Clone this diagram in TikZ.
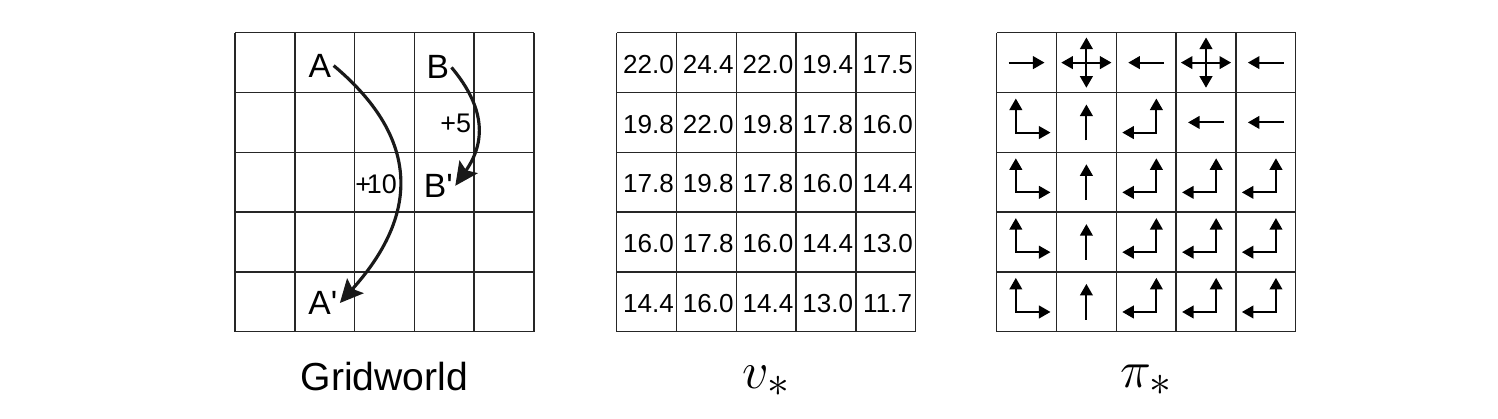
\documentclass[tikz,border=0pt]{standalone}
\usepackage{amsmath}
\usepackage{fontspec}
\usepackage{tikz}
\usetikzlibrary{arrows.meta}
\newfontfamily\arialfont{Liberation Sans}
\tikzset{
    gridline/.style={line width=0.7pt, draw=black!85},
    valnode/.style={font=\arialfont\fontsize{12.4}{14}\selectfont, inner sep=0pt},
    cellnode/.style={font=\arialfont\fontsize{16}{18}\selectfont, inner sep=1pt},
    rewnode/.style={font=\arialfont\fontsize{12.8}{14}\selectfont, inner sep=0pt},
    caption/.style={anchor=base, inner sep=0pt}
}
\tikzset{
    jump/.style={line width=1.5pt, draw=black!90,
    	-{Stealth[length=11pt, width=10.5pt, inset=2pt]}},
    policy/.style={line width=1pt, >={Triangle[length=5.5pt, width=6pt]}, ->}
}
\tikzset{
    pics/rarr/.style={code={\draw[policy] (-0.3,0) -- (0.3,0);}},
    pics/larr/.style={code={\draw[policy] (0.3,0) -- (-0.3,0);}},
    pics/uarr/.style={code={\draw[policy] (0,-0.3) -- (0,0.3);}},
    pics/allarr/.style={code={
    	\draw[policy] (0,0) -- (0.42,0); \draw[policy] (0,0) -- (-0.42,0);
    	\draw[policy] (0,0) -- (0,0.42); \draw[policy] (0,0) -- (0,-0.42);}},
    pics/urarr/.style={code={\draw[policy, <->] (-0.18,0.4) -- (-0.18,-0.17) -- (0.4,-0.17);}},
    pics/ularr/.style={code={\draw[policy, <->] (0.17,0.4) -- (0.17,-0.17) -- (-0.4,-0.17);}}
}

\begin{document}
\begin{tikzpicture}
	\useasboundingbox (-3.93,0.547) rectangle (21.12,-6.443);

	% gridworld
	\draw[gridline] (0,0) grid (5,-5);
	\node (A) [cellnode] at (1.42cm, -0.55cm) {A};
	\node (Ap) [cellnode] at (1.47cm, -4.52cm) {A'};
	\node (B) [cellnode] at (3.39cm, -0.58cm) {B};
	\node (Bp) [cellnode] at (3.40cm, -2.56cm) {B'};
	\node (r10) [rewnode] at (2.36cm, -2.54cm) {+\kern-2pt10};
	\node (r5) [rewnode] at (3.69cm, -1.52cm) {+5};
	\draw (A.east) edge [jump, out=-40, in=48, looseness=1.25] (Ap.east);
	\draw (B.east) edge [jump, out=-50, in=55, looseness=1.15] (Bp.east);
	\node (gwlabel) [caption, font=\arialfont\fontsize{18.6}{21}\selectfont] at (2.5cm, -5.99cm) {Gridworld};

	% optimal values
	\begin{scope}[xshift=6.383cm]
	\draw[gridline] (0,0) grid (5,-5);
	\foreach \row [count=\r from 0] in {{22.0,24.4,22.0,19.4,17.5},{19.8,22.0,19.8,17.8,16.0},
		{17.8,19.8,17.8,16.0,14.4},{16.0,17.8,16.0,14.4,13.0},{14.4,16.0,14.4,13.0,11.7}}
		\foreach \val [count=\c from 0] in \row
			\node (v\r\c) [valnode] at (\c+0.53, -\r-0.53) {\val};
	\node (vlabel) [caption, font=\Huge] at (2.5cm, -5.95cm) {$v_*$};
	\end{scope}

	% optimal policy
	\begin{scope}[xshift=12.737cm]
	\draw[gridline] (0,0) grid (5,-5);
	\pic at (0.5,-0.5) {rarr}; \pic at (1.5,-0.5) {allarr}; \pic at (2.5,-0.5) {larr};
	\pic at (3.5,-0.5) {allarr}; \pic at (4.5,-0.5) {larr};
	\pic at (0.5,-1.5) {urarr}; \pic at (1.5,-1.5) {uarr}; \pic at (2.5,-1.5) {ularr};
	\pic at (3.5,-1.5) {larr}; \pic at (4.5,-1.5) {larr};
	\pic at (0.5,-2.5) {urarr}; \pic at (1.5,-2.5) {uarr}; \pic at (2.5,-2.5) {ularr};
	\pic at (3.5,-2.5) {ularr}; \pic at (4.5,-2.5) {ularr};
	\pic at (0.5,-3.5) {urarr}; \pic at (1.5,-3.5) {uarr}; \pic at (2.5,-3.5) {ularr};
	\pic at (3.5,-3.5) {ularr}; \pic at (4.5,-3.5) {ularr};
	\pic at (0.5,-4.5) {urarr}; \pic at (1.5,-4.5) {uarr}; \pic at (2.5,-4.5) {ularr};
	\pic at (3.5,-4.5) {ularr}; \pic at (4.5,-4.5) {ularr};
	\node (pilabel) [caption, font=\Huge] at (2.5cm, -5.93cm) {$\pi_*$};
	\end{scope}
\end{tikzpicture}
\end{document}
